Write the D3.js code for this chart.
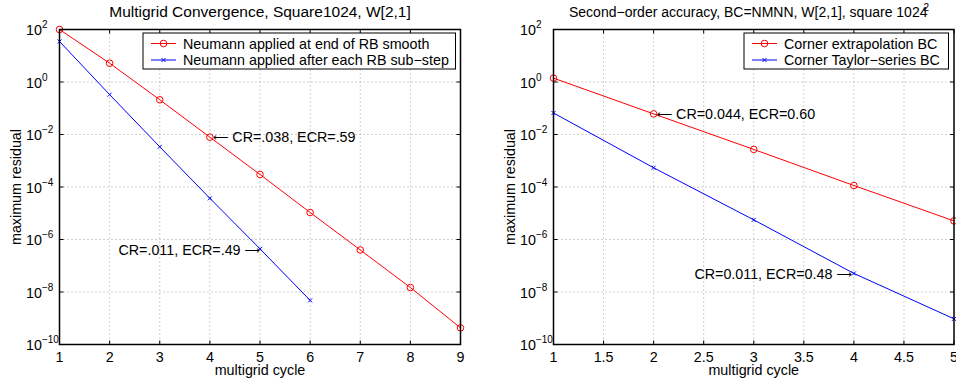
<!DOCTYPE html>
<html>
<head>
<meta charset="utf-8">
<script src="https://cdn.jsdelivr.net/npm/d3@7"></script>
<style>
  html, body { margin: 0; padding: 0; background: #fff; }
  svg { display: block; }
  text { font-family: "Liberation Sans", Arial, Helvetica, sans-serif; fill: #000; }
</style>
</head>
<body>
<svg id="fig" width="956" height="385"></svg>
<script>
// Multigrid residual histories (maximum residual per cycle)
const leftCycles = [1, 2, 3, 4, 5, 6, 7, 8, 9];
const leftEndSmooth = [100, 5.2, 0.21, 0.0079, 3.0e-4, 1.07e-5, 4.0e-7, 1.48e-8, 4.3e-10];
const leftSubStepCycles = [1, 2, 3, 4, 5, 6];
const leftSubStep = [35, 0.33, 3.4e-3, 3.7e-5, 4.4e-7, 4.8e-9];

const rightCycles = [1, 2, 3, 4, 5];
const rightExtrap = [1.4, 0.061, 2.7e-3, 1.14e-4, 5.1e-6];
const rightTaylor = [0.066, 5.4e-4, 5.6e-6, 5.1e-8, 9.5e-10];

// Tick labels
const leftXTicks = [1, 2, 3, 4, 5, 6, 7, 8, 9];
const rightXTicks = [1, 1.5, 2, 2.5, 3, 3.5, 4, 4.5, 5];
const yTickExponents = [-10, -8, -6, -4, -2, 0, 2];

const svg = d3.select("#fig");
const RED = "#ff0000", BLUE = "#0000ff";
const FS = 14.3;
const ARROW_FONT = "DejaVu Sans";
const ARROW_SIZE = 10.8;
const minus = s => String(s).replace("-", "\u2212");

function drawPanel(p) {
  const x = d3.scaleLinear().domain(p.xDomain).range([p.left, p.right]);
  const y = d3.scaleLog().domain([1e-10, 1e2]).range([p.bottom, p.top]);
  const g = svg.append("g");

  // dotted grid
  const grid = g.append("g").attr("stroke", "#a0a0a0").attr("stroke-width", 1)
    .attr("stroke-dasharray", "1,3");
  p.xTicks.slice(1, -1).forEach(t => {
    grid.append("line").attr("x1", x(t)).attr("x2", x(t))
      .attr("y1", p.top).attr("y2", p.bottom);
  });
  yTickExponents.slice(1, -1).forEach(e => {
    grid.append("line").attr("x1", p.left).attr("x2", p.right)
      .attr("y1", y(Math.pow(10, e))).attr("y2", y(Math.pow(10, e)));
  });

  // inward ticks on all four sides
  const ticks = g.append("g").attr("stroke", "#000").attr("stroke-width", 1);
  p.xTicks.forEach(t => {
    ticks.append("line").attr("x1", x(t)).attr("x2", x(t)).attr("y1", p.bottom).attr("y2", p.bottom - 4);
    ticks.append("line").attr("x1", x(t)).attr("x2", x(t)).attr("y1", p.top).attr("y2", p.top + 4);
  });
  yTickExponents.forEach(e => {
    const yy = y(Math.pow(10, e));
    ticks.append("line").attr("x1", p.left).attr("x2", p.left + 4).attr("y1", yy).attr("y2", yy);
    ticks.append("line").attr("x1", p.right).attr("x2", p.right - 4).attr("y1", yy).attr("y2", yy);
  });

  // tick labels
  p.xTicks.forEach(t => {
    g.append("text").attr("x", x(t)).attr("y", p.bottom + 17.5)
      .attr("text-anchor", "middle").attr("font-size", FS).text(t);
  });
  yTickExponents.forEach(e => {
    const yy = y(Math.pow(10, e));
    const t = g.append("text").attr("x", p.left - 33.5).attr("y", yy + 5.5).attr("font-size", FS);
    t.append("tspan").text("10");
    t.append("tspan").attr("font-size", 10).attr("dy", -7).text(minus(e));
  });

  // series
  const line = d3.line().x(d => x(d[0])).y(d => y(d[1]));
  p.series.forEach(s => {
    const pts = s.xs.map((v, i) => [v, s.ys[i]]);
    g.append("path").attr("d", line(pts)).attr("fill", "none")
      .attr("stroke", s.color).attr("stroke-width", 1);
    pts.forEach(d => drawMarker(g, s.marker, x(d[0]), y(d[1]), s.color));
  });

  // axes box
  g.append("rect").attr("x", p.left).attr("y", p.top)
    .attr("width", p.right - p.left).attr("height", p.bottom - p.top)
    .attr("fill", "none").attr("stroke", "#000").attr("stroke-width", 1.5);

  // axis titles
  g.append("text").attr("x", (p.left + p.right) / 2).attr("y", p.bottom + 30)
    .attr("text-anchor", "middle").attr("font-size", FS).text("multigrid cycle");
  g.append("text").attr("transform", `translate(${p.left - 39},${(p.top + p.bottom) / 2}) rotate(-90)`)
    .attr("text-anchor", "middle").attr("font-size", FS).text("maximum residual");

  // title
  const title = g.append("text").attr("x", p.titleX).attr("y", 17.3)
    .attr("text-anchor", "middle").attr("font-size", p.titleSize);
  title.append("tspan").text(p.title);
  if (p.titleSup) {
    title.append("tspan").attr("font-size", 10).attr("dx", -4).attr("dy", -6).text(p.titleSup);
  }

  // legend
  const lg = g.append("g");
  lg.append("rect").attr("x", p.legend.x).attr("y", p.legend.y)
    .attr("width", p.legend.w).attr("height", 36)
    .attr("fill", "#fff").attr("stroke", "#000").attr("stroke-width", 1);
  p.series.forEach((s, i) => {
    const ly = p.legend.y + 10.5 + i * 16.5;
    const lx = p.legend.x + 8;
    lg.append("line").attr("x1", lx).attr("x2", lx + 25).attr("y1", ly).attr("y2", ly)
      .attr("stroke", s.color).attr("stroke-width", 1);
    drawMarker(lg, s.marker, lx + 12.5, ly, s.color);
    lg.append("text").attr("x", lx + 32).attr("y", ly + 5).attr("font-size", FS).text(s.name);
  });

  // annotations: long thin arrow glyph + rate text
  p.notes.forEach(n => {
    const px = x(n.at[0]), py = y(n.at[1]);
    const t = g.append("text").attr("x", px + n.dx).attr("y", py + n.dy + 5)
      .attr("text-anchor", n.anchor).attr("font-size", FS);
    if (n.arrow === "left") {
      t.append("tspan").attr("font-family", ARROW_FONT).attr("font-size", ARROW_SIZE)
        .attr("dy", -1.4).text("\u27F5");
      t.append("tspan").attr("dy", 1.4).text(" " + n.text);
    } else {
      t.append("tspan").text(n.text + " ");
      t.append("tspan").attr("font-family", ARROW_FONT).attr("font-size", ARROW_SIZE)
        .attr("dy", -1.4).text("\u27F6");
    }
  });
}

function drawMarker(g, kind, cx, cy, color) {
  if (kind === "o") {
    g.append("circle").attr("cx", cx).attr("cy", cy).attr("r", 3.3)
      .attr("fill", "none").attr("stroke", color).attr("stroke-width", 1);
  } else {
    const h = 2;
    g.append("path").attr("d", `M${cx - h},${cy - h}L${cx + h},${cy + h}M${cx - h},${cy + h}L${cx + h},${cy - h}`)
      .attr("stroke", color).attr("stroke-width", 1).attr("fill", "none");
  }
}

drawPanel({
  left: 59.5, right: 460.5, top: 29.5, bottom: 344.5,
  xDomain: [1, 9], xTicks: leftXTicks,
  title: "Multigrid Convergence, Square1024, W[2,1]", titleX: 260, titleSize: 15.5,
  legend: { x: 143, y: 33, w: 312.5 },
  series: [
    { name: "Neumann applied at end of RB smooth", xs: leftCycles, ys: leftEndSmooth, color: RED, marker: "o" },
    { name: "Neumann applied after each RB sub\u2212step", xs: leftSubStepCycles, ys: leftSubStep, color: BLUE, marker: "x" }
  ],
  notes: [
    { at: [4, leftEndSmooth[3]], text: "CR=.038, ECR=.59", arrow: "left", anchor: "start", dx: 3, dy: 0 },
    { at: [5, leftSubStep[4]], text: "CR=.011, ECR=.49", arrow: "right", anchor: "end", dx: 0, dy: 1.5 }
  ]
});

drawPanel({
  left: 553.5, right: 954, top: 29.5, bottom: 344.5,
  xDomain: [1, 5], xTicks: rightXTicks,
  title: "Second\u2212order accuracy, BC=NMNN, W[2,1], square 1024", titleSup: "2", titleX: 749, titleSize: 14,
  legend: { x: 744, y: 33, w: 204.5 },
  series: [
    { name: "Corner extrapolation BC", xs: rightCycles, ys: rightExtrap, color: RED, marker: "o" },
    { name: "Corner Taylor\u2212series BC", xs: rightCycles, ys: rightTaylor, color: BLUE, marker: "x" }
  ],
  notes: [
    { at: [2, rightExtrap[1]], text: "CR=0.044, ECR=0.60", arrow: "left", anchor: "start", dx: 3, dy: 0.5 },
    { at: [4, rightTaylor[3]], text: "CR=0.011, ECR=0.48", arrow: "right", anchor: "end", dx: -2, dy: 0.5 }
  ]
});
</script>
</body>
</html>
